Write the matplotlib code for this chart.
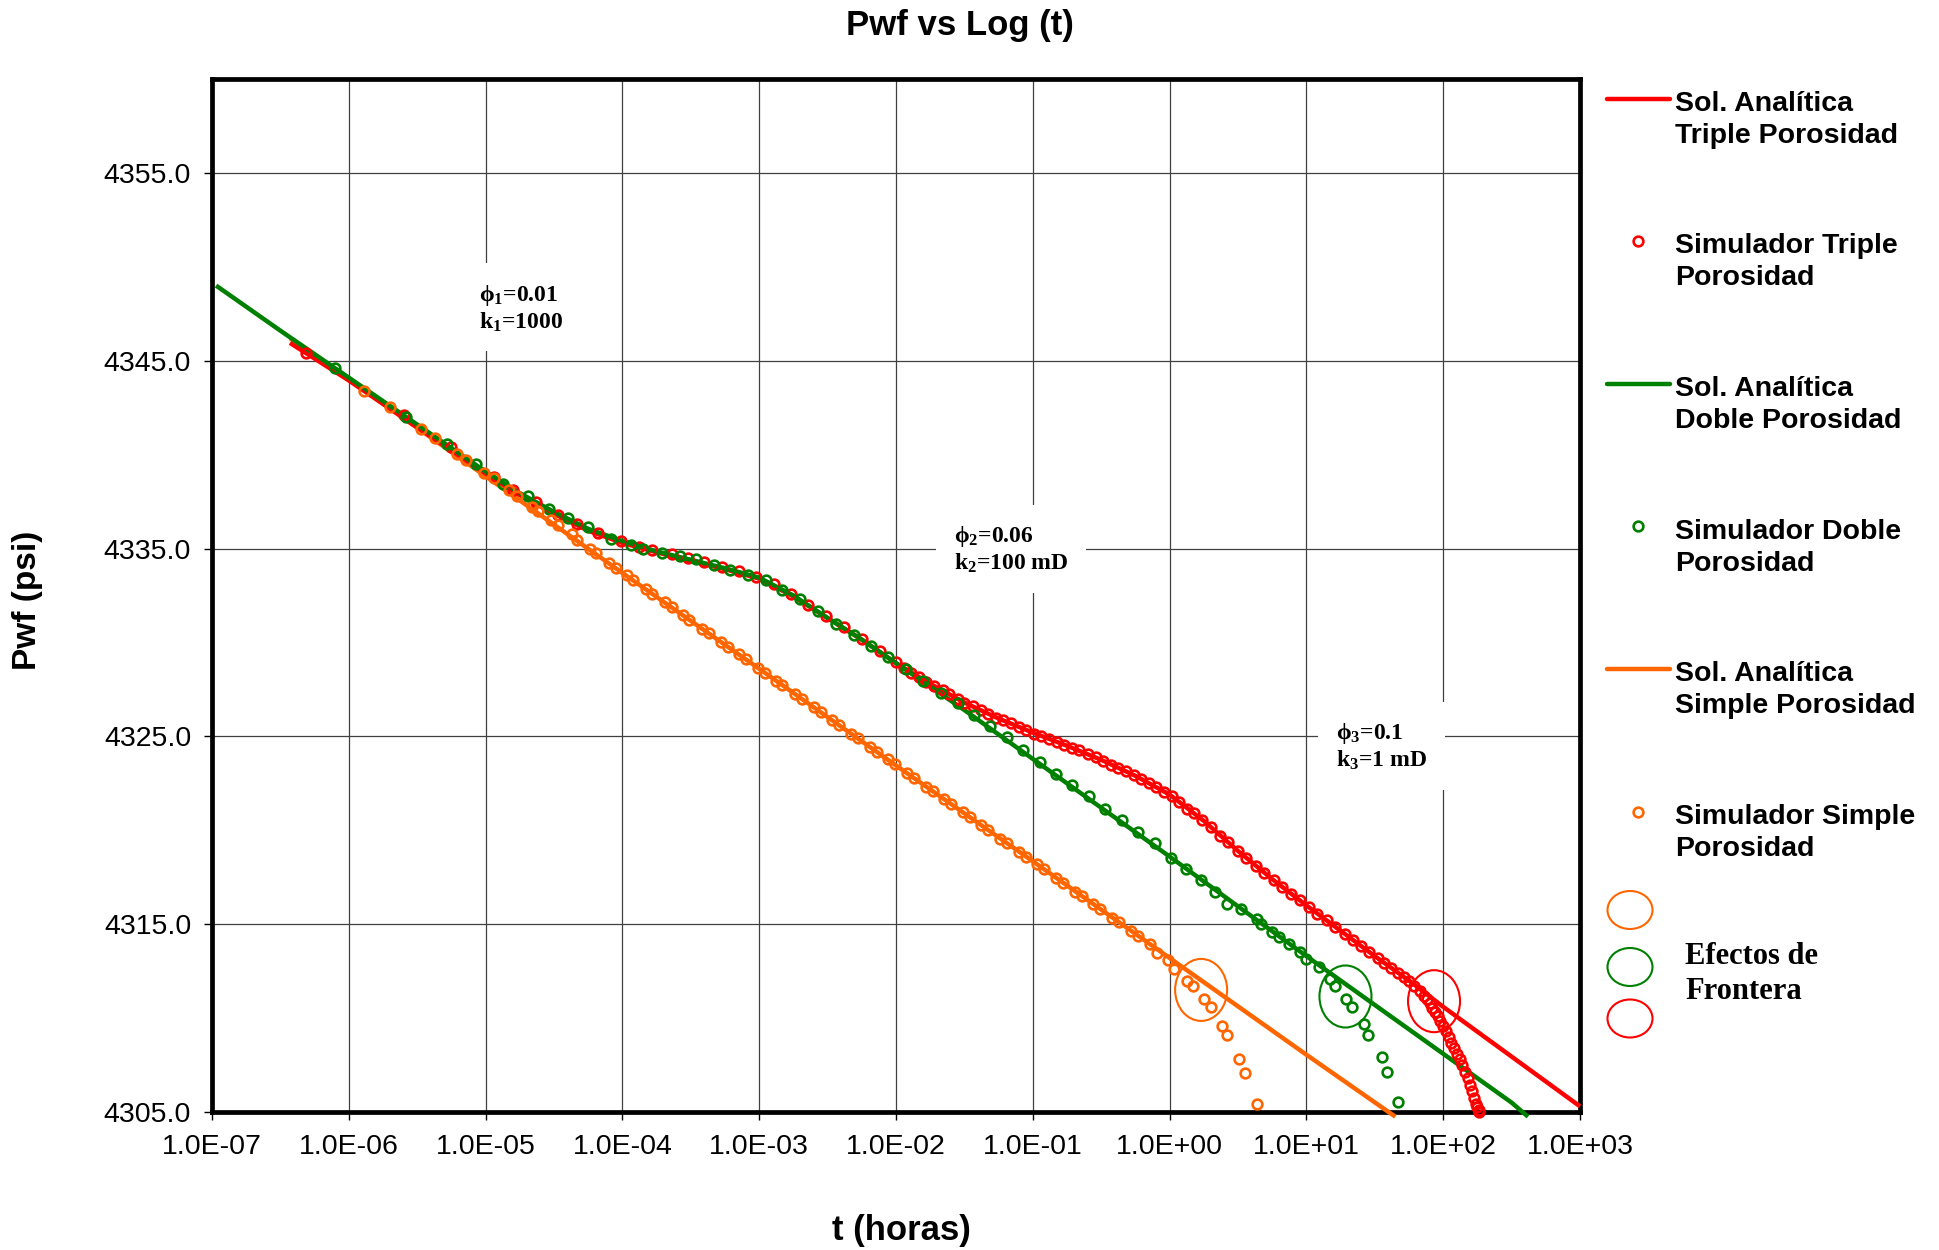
import numpy as np
import matplotlib
matplotlib.use("Agg")
import matplotlib.pyplot as plt
from matplotlib.lines import Line2D
from matplotlib.patches import Ellipse

RED = '#FF0000'
GREEN = '#008000'
ORANGE = '#FF6600'

# Analytic solutions: log10 of time [h] and flowing pressure [psi]
logt_triple = [-6.43, -6.0, -5.5, -5.0, -4.75, -4.5, -4.25, -4.0, -3.75, -3.5, -3.25, -3.0,
               -2.75, -2.5, -2.25, -2.0, -1.75, -1.5, -1.25, -1.0, -0.75, -0.5, -0.25, 0.0,
               0.25, 0.5, 0.75, 1.0, 1.25, 1.5, 1.75, 2.0, 2.5, 3.0]
pwf_triple = [4345.95, 4343.95, 4341.45, 4339.0, 4337.85, 4336.85, 4335.95, 4335.3, 4334.8,
              4334.35, 4333.9, 4333.4, 4332.45, 4331.3, 4330.15, 4328.9, 4327.8, 4326.8,
              4325.95, 4325.2, 4324.5, 4323.75, 4322.9, 4321.9, 4320.5, 4318.9, 4317.4,
              4316.0, 4314.65, 4313.3, 4312.0, 4310.6, 4307.95, 4305.3]

logt_double = [-6.97, -6.5, -6.0, -5.5, -5.0, -4.75, -4.5, -4.25, -4.0, -3.75, -3.5, -3.25,
               -3.0, -2.75, -2.5, -2.25, -2.0, -1.5, -1.0, -0.5, 0.0, 0.5, 1.0, 1.5, 2.0,
               2.5, 2.62]
pwf_double = [4349.0, 4346.6, 4344.1, 4341.6, 4339.1, 4337.95, 4336.95, 4336.05, 4335.4,
              4334.85, 4334.4, 4333.95, 4333.45, 4332.5, 4331.3, 4330.15, 4328.9, 4326.4,
              4323.8, 4321.2, 4318.6, 4315.95, 4313.3, 4310.7, 4308.1, 4305.5, 4304.75]

logt_simple = [-6.43, -6.0, -5.0, -4.0, -3.0, -2.0, -1.0, 0.0, 1.0, 1.65]
pwf_simple = [4346.2, 4344.0, 4338.85, 4333.7, 4328.6, 4323.45, 4318.35, 4313.2, 4308.05,
              4304.75]

# Simulator output (same units)
logt_triple_sim = [
    -6.31, -5.60, -5.25, -4.94, -4.80, -4.63, -4.47, -4.33, -4.18, -4.01,
    -3.88, -3.78, -3.64, -3.52, -3.40, -3.27, -3.15, -3.02, -2.89, -2.77,
    -2.64, -2.51, -2.38, -2.25, -2.12, -2.00, -1.94, -1.89, -1.83, -1.78,
    -1.72, -1.66, -1.61, -1.55, -1.50, -1.44, -1.38, -1.33, -1.27, -1.22,
    -1.16, -1.10, -1.05, -0.99, -0.94, -0.88, -0.82, -0.77, -0.71, -0.66,
    -0.60, -0.54, -0.49, -0.43, -0.38, -0.32, -0.26, -0.21, -0.15, -0.10,
    -0.04, 0.02, 0.07, 0.13, 0.18, 0.24, 0.30, 0.37, 0.43, 0.50,
    0.56, 0.63, 0.69, 0.76, 0.82, 0.89, 0.95, 1.02, 1.08, 1.15,
    1.21, 1.28, 1.34, 1.40, 1.46, 1.52, 1.57, 1.62, 1.67, 1.71,
    1.75, 1.79, 1.83, 1.86, 1.88, 1.90, 1.92, 1.94, 1.96, 1.98,
    2.00, 2.02, 2.04, 2.06, 2.08, 2.10, 2.12, 2.14, 2.16, 2.18,
    2.195, 2.21, 2.225, 2.24, 2.25, 2.26, 2.265]
pwf_triple_sim = [
    4345.39, 4342.10, 4340.40, 4338.81, 4338.10, 4337.50, 4336.80, 4336.30, 4335.85, 4335.40,
    4335.10, 4334.90, 4334.70, 4334.50, 4334.30, 4334.00, 4333.80, 4333.50, 4333.10, 4332.60,
    4332.00, 4331.40, 4330.80, 4330.20, 4329.55, 4328.95, 4328.65, 4328.40, 4328.15, 4327.90,
    4327.70, 4327.45, 4327.25, 4327.00, 4326.80, 4326.60, 4326.40, 4326.20, 4326.00, 4325.85,
    4325.70, 4325.50, 4325.35, 4325.15, 4325.00, 4324.85, 4324.70, 4324.55, 4324.40, 4324.25,
    4324.05, 4323.90, 4323.70, 4323.50, 4323.30, 4323.15, 4322.95, 4322.75, 4322.50, 4322.30,
    4322.05, 4321.80, 4321.50, 4321.15, 4320.90, 4320.55, 4320.15, 4319.70, 4319.35, 4318.90,
    4318.55, 4318.10, 4317.75, 4317.35, 4317.00, 4316.60, 4316.30, 4315.90, 4315.55, 4315.20,
    4314.85, 4314.50, 4314.15, 4313.85, 4313.50, 4313.20, 4312.95, 4312.65, 4312.40, 4312.20,
    4311.95, 4311.70, 4311.45, 4311.20, 4311.00, 4310.80, 4310.55, 4310.35, 4310.10, 4309.85,
    4309.60, 4309.30, 4309.00, 4308.70, 4308.40, 4308.10, 4307.80, 4307.50, 4307.15, 4306.80,
    4306.45, 4306.10, 4305.75, 4305.45, 4305.25, 4305.10, 4305.00]

logt_double_sim = [
    -6.10, -5.58, -5.28, -5.07, -4.87, -4.69, -4.54, -4.40, -4.25, -4.08,
    -3.94, -3.85, -3.71, -3.58, -3.46, -3.33, -3.21, -3.08, -2.95, -2.83,
    -2.70, -2.57, -2.44, -2.31, -2.18, -2.06, -1.93, -1.80, -1.67, -1.55,
    -1.43, -1.31, -1.19, -1.07, -0.95, -0.83, -0.71, -0.59, -0.47, -0.35,
    -0.23, -0.11, 0.01, 0.12, 0.23, 0.33, 0.42, 0.52, 0.64, 0.67,
    0.75, 0.80, 0.87, 0.95, 1.00, 1.09, 1.17, 1.21, 1.29, 1.33,
    1.42, 1.45, 1.55, 1.59, 1.67]
pwf_double_sim = [
    4344.59, 4342.01, 4340.59, 4339.49, 4338.46, 4337.80, 4337.13, 4336.60, 4336.15, 4335.53,
    4335.17, 4335.00, 4334.76, 4334.59, 4334.46, 4334.10, 4333.85, 4333.60, 4333.30, 4332.80,
    4332.30, 4331.70, 4331.00, 4330.40, 4329.80, 4329.20, 4328.60, 4327.95, 4327.30, 4326.75,
    4326.15, 4325.55, 4324.95, 4324.30, 4323.65, 4323.00, 4322.40, 4321.80, 4321.15, 4320.55,
    4319.90, 4319.30, 4318.55, 4317.95, 4317.35, 4316.70, 4316.08, 4315.82, 4315.28, 4315.02,
    4314.57, 4314.31, 4313.95, 4313.50, 4313.15, 4312.71, 4312.09, 4311.73, 4311.02, 4310.58,
    4309.69, 4309.12, 4307.91, 4307.15, 4305.51]

logt_simple_sim = [
    -5.89, -5.70, -5.47, -5.37, -5.21, -5.14, -5.01, -4.94, -4.83, -4.77,
    -4.66, -4.62, -4.52, -4.47, -4.37, -4.33, -4.24, -4.19, -4.10, -4.05,
    -3.97, -3.92, -3.83, -3.78, -3.69, -3.64, -3.56, -3.51, -3.42, -3.37,
    -3.28, -3.23, -3.15, -3.10, -3.01, -2.96, -2.88, -2.83, -2.74, -2.69,
    -2.60, -2.55, -2.47, -2.42, -2.33, -2.28, -2.19, -2.14, -2.06, -2.01,
    -1.92, -1.87, -1.78, -1.73, -1.65, -1.60, -1.51, -1.46, -1.38, -1.33,
    -1.24, -1.19, -1.10, -1.05, -0.97, -0.92, -0.83, -0.78, -0.69, -0.64,
    -0.56, -0.51, -0.42, -0.37, -0.28, -0.23, -0.14, -0.09, -0.01, 0.03,
    0.13, 0.17, 0.25, 0.30, 0.38, 0.42, 0.51, 0.55, 0.64]
pwf_simple_sim = [
    4343.38, 4342.54, 4341.39, 4340.89, 4340.06, 4339.70, 4339.03, 4338.73, 4338.10, 4337.78,
    4337.21, 4337.00, 4336.50, 4336.24, 4335.76, 4335.48, 4335.00, 4334.76, 4334.23, 4333.98,
    4333.57, 4333.31, 4332.85, 4332.59, 4332.13, 4331.87, 4331.46, 4331.21, 4330.74, 4330.49,
    4330.03, 4329.77, 4329.36, 4329.10, 4328.64, 4328.38, 4327.97, 4327.72, 4327.26, 4327.00,
    4326.54, 4326.28, 4325.87, 4325.61, 4325.15, 4324.90, 4324.43, 4324.18, 4323.77, 4323.51,
    4323.05, 4322.79, 4322.33, 4322.07, 4321.66, 4321.41, 4320.95, 4320.69, 4320.28, 4320.02,
    4319.56, 4319.30, 4318.84, 4318.59, 4318.18, 4317.92, 4317.46, 4317.20, 4316.74, 4316.48,
    4316.07, 4315.82, 4315.35, 4315.10, 4314.64, 4314.38, 4313.92, 4313.45, 4313.10, 4312.62,
    4312.00, 4311.70, 4311.00, 4310.60, 4309.60, 4309.10, 4307.80, 4307.10, 4305.40]

# Points where the boundary is felt (orange, green, red)
boundary_t = [1.7, 19.3, 85.7]
boundary_p = [4311.5, 4311.15, 4310.9]
boundary_colors = [ORANGE, GREEN, RED]

# Medium properties labels
note_t = [9.0e-6, 0.0264, 16.5]
note_p = [4347.8, 4334.95, 4324.45]
note_text = [r'$\phi_1$=0.01' + '\n' + r'k$_1$=1000',
             r'$\phi_2$=0.06' + '\n' + r'k$_2$=100 mD',
             r'$\phi_3$=0.1' + '\n' + r'k$_3$=1 mD']

x_ticks = [1e-7, 1e-6, 1e-5, 1e-4, 1e-3, 1e-2, 1e-1, 1e0, 1e1, 1e2, 1e3]
y_ticks = [4305.0, 4315.0, 4325.0, 4335.0, 4345.0, 4355.0]

plt.rcParams['font.family'] = ['Liberation Sans', 'DejaVu Sans']
plt.rcParams['mathtext.fontset'] = 'custom'
plt.rcParams['mathtext.rm'] = 'Liberation Serif:bold'
plt.rcParams['mathtext.it'] = 'Liberation Serif:bold'
plt.rcParams['mathtext.bf'] = 'Liberation Serif:bold'

W, H = 1939, 1250
fig = plt.figure(figsize=(W / 100, H / 100), dpi=100)
ax = fig.add_axes([212 / W, 1 - 1112 / H, 1368 / W, 1033 / H])
ax.set_xscale('log')
ax.set_xlim(1e-7, 1e3)
ax.set_ylim(4305, 4360)

LW = 3.2
MS, MEW = 7.0, 1.9
line_kw = dict(lw=LW, clip_on=False, solid_capstyle='butt')
ax.plot(10.0 ** np.array(logt_simple), pwf_simple, color=ORANGE, zorder=3.0, **line_kw)
ax.plot(10.0 ** np.array(logt_triple), pwf_triple, color=RED, zorder=3.1, **line_kw)
ax.plot(10.0 ** np.array(logt_double), pwf_double, color=GREEN, zorder=3.2, **line_kw)

mk_kw = dict(ls='none', marker='o', ms=MS, mfc='none', mew=MEW, clip_on=False)
ax.plot(10.0 ** np.array(logt_triple_sim), pwf_triple_sim, mec=RED, zorder=3.3, **mk_kw)
ax.plot(10.0 ** np.array(logt_double_sim), pwf_double_sim, mec=GREEN, zorder=3.4, **mk_kw)
ax.plot(10.0 ** np.array(logt_simple_sim), pwf_simple_sim, mec=ORANGE, zorder=3.5, **mk_kw)

ax.minorticks_off()
ax.set_xticks(x_ticks)
ax.set_xticklabels([f'{v:.1E}' for v in x_ticks])
ax.set_yticks(y_ticks)
ax.set_yticklabels([f'{v:.1f}' for v in y_ticks])
ax.tick_params(axis='both', direction='out', length=6, width=1.0, labelsize=20.5)
ax.tick_params(axis='x', pad=10)
ax.tick_params(axis='y', pad=9)
ax.grid(True, which='major', color='#404040', lw=0.9)
for sp in ax.spines.values():
    sp.set_linewidth(3.4)
    sp.set_zorder(2.9)

ax.set_xlabel('t (horas)', fontsize=25, fontweight='bold')
ax.xaxis.set_label_coords(0.504, -0.099)
ax.set_ylabel('Pwf (psi)', fontsize=24, fontweight='bold')
ax.yaxis.set_label_coords(-0.1235, 0.4956)
fig.suptitle('Pwf vs Log (t)', x=0.4949, y=1 - 26 / H, va='center',
             fontsize=25, fontweight='bold')

# property labels on white boxes that hide the grid
for t, p, s in zip(note_t, note_p, note_text):
    ax.text(t, p, s, ha='left', va='center', fontsize=17, fontweight='bold',
            family=['Liberation Serif', 'DejaVu Serif'], linespacing=1.15,
            bbox=dict(boxstyle='square,pad=0.75', fc='white', ec='none'), zorder=2)

# boundary-effect ellipses, sized in pixels
for t, p, c in zip(boundary_t, boundary_p, boundary_colors):
    fx, fy = ax.transAxes.inverted().transform(ax.transData.transform((t, p)))
    ax.add_patch(Ellipse((fx, fy), 52 / 1368, 62 / 1033, transform=ax.transAxes,
                         fill=False, ec=c, lw=1.5, zorder=3.6, clip_on=False))

# legend drawn in figure pixels; label y is the baseline of its second line
legend_entries = [
    ('line', RED, 'Sol. Analítica\nTriple Porosidad'),
    ('marker', RED, 'Simulador Triple\nPorosidad'),
    ('line', GREEN, 'Sol. Analítica\nDoble Porosidad'),
    ('marker', GREEN, 'Simulador Doble\nPorosidad'),
    ('line', ORANGE, 'Sol. Analítica\nSimple Porosidad'),
    ('marker', ORANGE, 'Simulador Simple\nPorosidad'),
]
for i, (kind, color, label) in enumerate(legend_entries):
    yp = 98.5 + 142.6 * i
    y = 1 - yp / H
    if kind == 'line':
        fig.add_artist(Line2D([1607 / W, 1670 / W], [y, y], color=color, lw=LW,
                              solid_capstyle='round'))
    else:
        fig.add_artist(Line2D([1637.5 / W], [y], ls='none', marker='o', ms=MS,
                              mfc='none', mec=color, mew=MEW))
    fig.text(1675 / W, 1 - (yp + 44.4) / H, label, ha='left', va='baseline',
             fontsize=20.5, fontweight='bold', linespacing=1.3)

for yc, c in zip([910, 967, 1018.5], boundary_colors):
    fig.add_artist(Ellipse((1630 / W, 1 - yc / H), 45 / W, 38 / H,
                           transform=fig.transFigure, fill=False, ec=c, lw=1.5))
fig.text(1685 / W, 1 - 999.3 / H, 'Efectos de\nFrontera', ha='left', va='baseline',
         fontsize=22, fontweight='bold', family=['Liberation Serif', 'DejaVu Serif'],
         linespacing=1.3)

fig.savefig('out.png', dpi=100)
